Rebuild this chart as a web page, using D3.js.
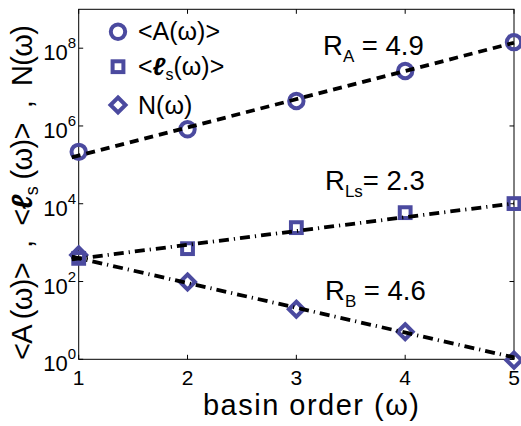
<!DOCTYPE html>
<html>
<head>
<meta charset="utf-8">
<script src="https://cdn.jsdelivr.net/npm/d3@7"></script>
<style>
  html, body { margin: 0; padding: 0; background: #ffffff; }
  svg { display: block; }
  text { font-family: "Liberation Sans", "Open Sans", "DejaVu Sans", sans-serif; fill: #000; white-space: pre; }
</style>
</head>
<body>
<svg id="chart" width="521" height="426"></svg>
<script>
// ---- data ----
const orders   = [1, 2, 3, 4, 5];
const areaA    = [2.16e5, 8.2e5, 4.4e6, 2.6e7, 1.43e8];   // <A(ω)>
const lengthLs = [394, 700, 2430, 5900, 1.01e4];          // <ℓs(ω)>
const countN   = [484, 97, 19.4, 5.1, 0.95];              // N(ω)

const fitOrders = [0.936, 5];
const fitA  = [1.55e5, 1.38e8];
const fitLs = [369, 1.02e4];
const fitN  = [437, 1.12];

const xTicks = [1, 2, 3, 4, 5];
const yTickExps = [0, 2, 4, 6, 8];
const ratioNames  = ["A", "Ls", "B"];
const ratioValues = ["4.9", "2.3", "4.6"];
const legendLabels = ["<A(ω)>", "<ℓs(ω)>", "N(ω)"];

// ---- layout ----
const svg = d3.select("#chart");
const markerColor = "#4B4A9F";
const x = d3.scaleLinear().domain([1, 5]).range([78.7, 514]);
const y = d3.scaleLog().domain([1, 1e9]).range([359.3, 9.3]);

// box
svg.append("rect")
  .attr("x", x(1)).attr("y", y(1e9))
  .attr("width", x(5) - x(1)).attr("height", y(1) - y(1e9))
  .attr("fill", "none").attr("stroke", "#000").attr("stroke-width", 1);

// ticks (inward, all four sides)
const tickLen = 4.5;
const tg = svg.append("g").attr("stroke", "#000").attr("stroke-width", 1);
xTicks.forEach(v => {
  tg.append("line").attr("x1", x(v)).attr("x2", x(v)).attr("y1", y(1)).attr("y2", y(1) - tickLen);
  tg.append("line").attr("x1", x(v)).attr("x2", x(v)).attr("y1", y(1e9)).attr("y2", y(1e9) + tickLen);
});
yTickExps.forEach(e => {
  const v = Math.pow(10, e);
  tg.append("line").attr("x1", x(1)).attr("x2", x(1) + tickLen).attr("y1", y(v)).attr("y2", y(v));
  tg.append("line").attr("x1", x(5)).attr("x2", x(5) - tickLen).attr("y1", y(v)).attr("y2", y(v));
});

// x tick labels
svg.append("g").selectAll("text").data(xTicks).join("text")
  .attr("x", d => x(d)).attr("y", 384.5)
  .attr("text-anchor", "middle").attr("font-size", 21)
  .text(d => d);

// y tick labels 10^e
const yl = svg.append("g").selectAll("text").data(yTickExps).join("text")
  .attr("x", 76).attr("y", d => y(Math.pow(10, d)) + 12)
  .attr("text-anchor", "end").attr("font-size", 22);
yl.append("tspan").text("10");
yl.append("tspan").attr("font-size", 15).attr("dy", -12).text(d => d);

// axis titles
svg.append("text")
  .attr("x", 311).attr("y", 415)
  .attr("text-anchor", "middle").attr("font-size", 29)
  .attr("textLength", 216).attr("lengthAdjust", "spacing")
  .text("basin order (ω)");

const ylab = svg.append("text")
  .attr("transform", "translate(32,192.5) rotate(-90)")
  .attr("text-anchor", "middle").attr("font-size", 29)
  .attr("textLength", 335).attr("lengthAdjust", "spacing");
ylab.append("tspan").text("<A (ω)>  ,  <");
ylab.append("tspan").attr("font-weight", "bold").attr("font-style", "italic").text("ℓ");
ylab.append("tspan").attr("font-size", 18).attr("dy", 6).text("s");
ylab.append("tspan").attr("dy", -6).text(" (ω)>  ,  N(ω)");

// ---- markers ----
const circleR = 7.2, markerStroke = 4;
const sqSide = 10.8, diaHalf = 7.5;
const diamondPath = (cx, cy, h) => `M${cx},${cy - h}L${cx + h},${cy}L${cx},${cy + h}L${cx - h},${cy}Z`;

const mg = svg.append("g").attr("fill", "none").attr("stroke", markerColor).attr("stroke-width", markerStroke);
mg.selectAll("circle.a").data(orders).join("circle")
  .attr("cx", d => x(d)).attr("cy", (d, i) => y(areaA[i])).attr("r", circleR);
mg.selectAll("rect.l").data(orders).join("rect")
  .attr("x", d => x(d) - sqSide / 2).attr("y", (d, i) => y(lengthLs[i]) - sqSide / 2)
  .attr("width", sqSide).attr("height", sqSide);
mg.selectAll("path.n").data(orders).join("path")
  .attr("d", (d, i) => diamondPath(x(d), y(countN[i]), diaHalf));

// ---- fit lines ----
const line = d3.line().x(d => x(d[0])).y(d => y(d[1]));
const lineW = 3.8;
svg.append("path").datum(fitOrders.map((o, i) => [o, fitA[i]]))
  .attr("d", line).attr("fill", "none").attr("stroke", "#000")
  .attr("stroke-width", lineW).attr("stroke-dasharray", "9,6");
[fitLs, fitN].forEach(f => {
  svg.append("path").datum(fitOrders.map((o, i) => [o, f[i]]))
    .attr("d", line).attr("fill", "none").attr("stroke", "#000")
    .attr("stroke-width", lineW).attr("stroke-dasharray", "10,5,1.2,5");
});

// ---- ratio annotations ----
const annPos = [[323, 55], [325, 190], [325, 300]];
ratioNames.forEach((nm, i) => {
  const t = svg.append("text").attr("x", annPos[i][0]).attr("y", annPos[i][1]).attr("font-size", 27.5);
  t.append("tspan").text("R");
  t.append("tspan").attr("font-size", 17).attr("dy", 7).text(nm);
  t.append("tspan").attr("dy", -7).text((nm === "Ls" ? "= " : " = ") + ratioValues[i]);
});

// ---- legend ----
const legX = 118, legY = [31.7, 66.7, 105];
const lg = svg.append("g").attr("fill", "none").attr("stroke", markerColor).attr("stroke-width", markerStroke);
lg.append("circle").attr("cx", legX).attr("cy", legY[0]).attr("r", circleR);
lg.append("rect").attr("x", legX - sqSide / 2).attr("y", legY[1] - sqSide / 2).attr("width", sqSide).attr("height", sqSide);
lg.append("path").attr("d", diamondPath(legX, legY[2], diaHalf));

const lt = svg.append("g").attr("font-size", 25);
lt.append("text").attr("x", 138).attr("y", legY[0] + 8.5).text(legendLabels[0]);
const l2 = lt.append("text").attr("x", 138).attr("y", legY[1] + 8.5);
l2.append("tspan").text("<");
l2.append("tspan").attr("font-weight", "bold").attr("font-style", "italic").text("ℓ");
l2.append("tspan").attr("font-size", 16).attr("dy", 5).text("s");
l2.append("tspan").attr("dy", -5).text("(ω)>");
lt.append("text").attr("x", 138).attr("y", legY[2] + 8.5).text(legendLabels[2]);
</script>
</body>
</html>
